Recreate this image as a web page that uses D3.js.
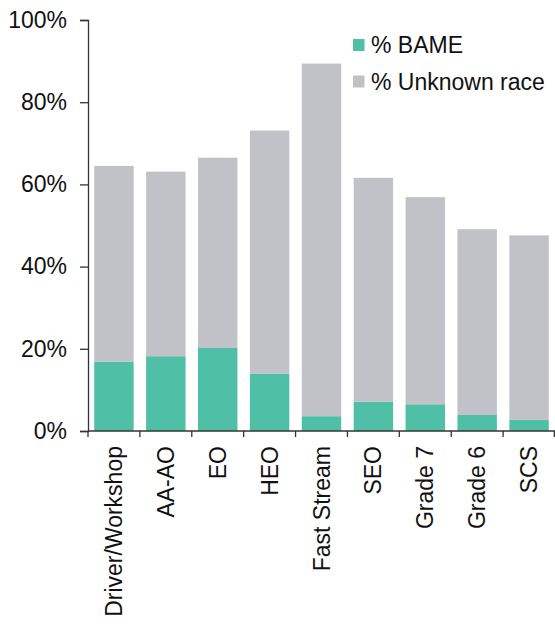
<!DOCTYPE html>
<html>
<head>
<meta charset="utf-8">
<script src="https://cdn.jsdelivr.net/npm/d3@7"></script>
<style>
  html, body { margin: 0; padding: 0; background: #fff; }
  svg { display: block; font-family: "Liberation Sans", Arial, sans-serif; }
</style>
</head>
<body>
<svg id="chart" width="555" height="624"></svg>
<script>
// Staff grades and ethnicity shares (percent of staff)
const grades = ["Driver/Workshop", "AA-AO", "EO", "HEO", "Fast Stream", "SEO", "Grade 7", "Grade 6", "SCS"];
const bame = [16.9, 18.2, 20.2, 13.9, 3.6, 7.1, 6.5, 3.9, 2.7];
const unknownRace = [47.6, 44.9, 46.3, 59.2, 85.8, 54.5, 50.4, 45.2, 44.9];
const seriesNames = ["% BAME", "% Unknown race"];
const seriesColors = ["#4fbfa6", "#c1c2c7"];
const yTicks = [0, 20, 40, 60, 80, 100];

const svg = d3.select("#chart");
const margin = { left: 88, right: 0, top: 20, bottom: 193 };
const W = 555, H = 624;
const fontSize = 23;

const rows = grades.map((g, i) => ({ grade: g, bame: bame[i], unknown: unknownRace[i] }));
const stack = d3.stack().keys(["bame", "unknown"])(rows);

const x = d3.scaleBand().domain(grades).range([margin.left, W - margin.right]).paddingInner(0.24).paddingOuter(0.12);
const y = d3.scaleLinear().domain([0, 100]).range([H - margin.bottom, margin.top]);

const textColor = "#111";
const axisColor = "#333";

// Stacked bars
svg.append("g").selectAll("g").data(stack).join("g")
  .attr("fill", (d, i) => seriesColors[i])
  .selectAll("rect").data(d => d).join("rect")
  .attr("x", d => x(d.data.grade))
  .attr("width", x.bandwidth())
  .attr("y", d => y(d[1]))
  .attr("height", d => y(d[0]) - y(d[1]));

// Y axis
const yAxis = svg.append("g")
  .attr("transform", `translate(${margin.left},0)`)
  .call(d3.axisLeft(y).tickValues(yTicks).tickFormat(d => d + "%").tickSize(8).tickPadding(13));
yAxis.select(".domain").attr("stroke", axisColor).attr("stroke-width", 1.3);
yAxis.selectAll(".tick line").attr("stroke", axisColor).attr("stroke-width", 1.3);
yAxis.selectAll(".tick text").attr("fill", textColor).attr("font-size", fontSize).attr("dy", "0.32em");

// X axis: baseline with ticks at category boundaries
const step = x.step();
const x0 = margin.left;
const xAxisG = svg.append("g");
xAxisG.append("line")
  .attr("x1", x0).attr("x2", W - margin.right)
  .attr("y1", y(0)).attr("y2", y(0))
  .attr("stroke", axisColor).attr("stroke-width", 1.3);
xAxisG.selectAll("line.tk").data(d3.range(grades.length + 1)).join("line")
  .attr("class", "tk")
  .attr("x1", i => Math.min(x0 + i * step, W - 0.7)).attr("x2", i => Math.min(x0 + i * step, W - 0.7))
  .attr("y1", y(0)).attr("y2", y(0) + 6)
  .attr("stroke", axisColor).attr("stroke-width", 1.3);

// Rotated category labels
xAxisG.selectAll("text").data(grades).join("text")
  .attr("transform", d => `translate(${x(d) + x.bandwidth() / 2},${y(0) + 15}) rotate(-90)`)
  .attr("text-anchor", "end")
  .attr("dy", "0.35em")
  .attr("font-size", fontSize)
  .attr("fill", textColor)
  .text(d => d);

// Legend
const legend = svg.append("g").attr("transform", "translate(353,39)");
const item = legend.selectAll("g").data(seriesNames).join("g")
  .attr("transform", (d, i) => `translate(0,${i * 36.5})`);
item.append("rect").attr("width", 11.5).attr("height", 12).attr("fill", (d, i) => seriesColors[i]);
item.append("text").attr("x", 18).attr("y", 14)
  .attr("font-size", fontSize).attr("fill", textColor).text(d => d);
</script>
</body>
</html>
